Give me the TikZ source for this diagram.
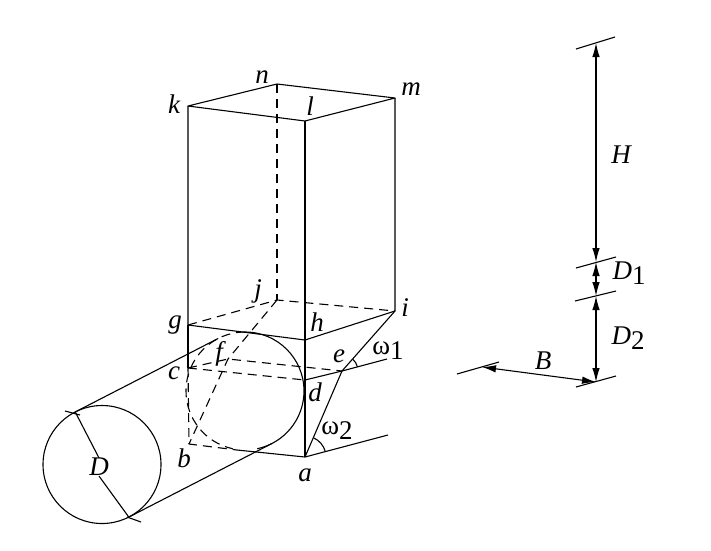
\documentclass[tikz,border=0pt]{standalone}
\usepackage{fontspec}
\setmainfont{Liberation Serif}
\usetikzlibrary{arrows.meta}

\begin{document}
\begin{tikzpicture}[x=1pt,y=-1pt,
    edge/.style    = {line width=1.1pt,line join=round},
    hidden/.style  = {edge,dash pattern=on 9pt off 6pt},
    dim/.style     = {edge,{Latex[length=14pt,width=7.5pt]}-{Latex[length=14pt,width=7.5pt]}},
    lab/.style     = {font=\fontsize{27}{27}\selectfont\itshape,inner sep=0pt},
    rnd/.style     = {circle,inner sep=0pt,outer sep=0pt,minimum size=118pt},
  ]
  \useasboundingbox (0,0) rectangle (711,550);
  % box corners
  \coordinate (k) at (188,106);
  \coordinate (l) at (305,121);
  \coordinate (m) at (395,98);
  \coordinate (n) at (277,84);
  \coordinate (g) at (188,325);
  \coordinate (h) at (305,340);
  \coordinate (i) at (395,311);
  \coordinate (j) at (277,300);
  \coordinate (c) at (188,368);
  \coordinate (d) at (305,380);
  \coordinate (e) at (342,371);
  \coordinate (f) at (228,359);
  \coordinate (b) at (189,444);
  \coordinate (a) at (305,457);
  \coordinate (ba) at (237,450);
  \coordinate (rayE) at (387,359);
  \coordinate (rayA) at (388,435);
  % dimension marks
  \coordinate (dimH) at (596,43);
  \coordinate (dimA) at (596,262);
  \coordinate (dimB) at (596,296);
  \coordinate (dimC) at (596,382);
  \coordinate (dimW) at (482,367);
  \coordinate (tick1a) at (576,49);  \coordinate (tick1b) at (615,37);
  \coordinate (tick2a) at (576,268); \coordinate (tick2b) at (616,257);
  \coordinate (tick3a) at (575,301); \coordinate (tick3b) at (616,291);
  \coordinate (tick4a) at (576,387); \coordinate (tick4b) at (616,376);
  \coordinate (tick5a) at (457,374); \coordinate (tick5b) at (499,362);
  \coordinate (tick6a) at (65,411);  \coordinate (tick6b) at (80,415);
  \coordinate (tick7a) at (127,517); \coordinate (tick7b) at (141,522);

  \node[rnd,draw,edge] (cirD) at (102,464.5) {};
  \node[rnd] (cirC) at (245,391) {};

  % solid edges
  \draw[edge] (k) -- (l) -- (m) -- (n) -- cycle;
  \draw[edge] (k) -- (g) -- (h) -- (i) -- (m);
  \draw[edge] (l) -- (a);
  \draw[edge] (g) -- (c);
  \draw[edge] (d) -- (e) -- (rayE);
  \draw[edge] (a) -- (e) -- (i);
  \draw[edge] (a) -- (rayA);
  \draw[edge] (ba) -- (a);
  % hidden edges
  \draw[hidden] (n) -- (j);
  \draw[hidden] (g) -- (j) -- (i);
  \draw[hidden] (c) -- (d);
  \draw[hidden] (c) -- (f) -- (e);
  \draw[hidden] (c) -- (b) -- (ba);
  \draw[hidden] (j) -- (f) -- (b);
  % cylinder
  \draw[edge] (cirC.90) arc[start angle=90,end angle=-78,radius=59pt];
  \draw[hidden] (cirC.90) arc[start angle=90,end angle=258,radius=59pt];
  \draw[edge] (cirD.117) -- (cirC.117);
  \draw[edge] (cirD.297) -- (cirC.297);
  \draw[edge] (tick6a) -- (tick6b);
  \draw[edge] (tick7a) -- (tick7b);
  % angles
  \draw[edge] (e) ++(15:16pt) arc[start angle=15,end angle=48,radius=16pt];
  \draw[edge] (a) ++(15:21pt) arc[start angle=15,end angle=66,radius=21pt];
  % dimensions
  \draw[edge] (tick1a) -- (tick1b);
  \draw[edge] (tick2a) -- (tick2b);
  \draw[edge] (tick3a) -- (tick3b);
  \draw[edge] (tick4a) -- (tick4b);
  \draw[edge] (tick5a) -- (tick5b);
  \draw[dim] (dimH) -- (dimA);
  \draw[dim] (dimA) -- (dimB);
  \draw[dim] (dimB) -- (dimC);
  \draw[dim] (dimW) -- (dimC);

  \node[lab] (labD) at (99,467) {D};
  \draw[edge] (cirD.117) -- (labD.north);
  \draw[edge] (labD.south) -- (cirD.297);

  % labels
  \node[lab] (labK) at (174,104) {k};
  \node[lab] (labL) at (310,106) {l};
  \node[lab] (labM) at (411,89) {m};
  \node[lab] (labN) at (262,77) {n};
  \node[lab] (labG) at (175,325) {g};
  \node[lab] (labH) at (317,322) {h};
  \node[lab] (labI) at (405,308) {i};
  \node[lab] (labJ) at (258,291) {j};
  \node[lab] (labC) at (174,373) {c};
  \node[lab] (labDd) at (315,392) {d};
  \node[lab] (labE) at (339,356) {e};
  \node[lab] (labF) at (219,354) {f};
  \node[lab] (labB) at (184,458) {b};
  \node[lab] (labA) at (305,475) {a};
  \node[lab] (labW1) at (388,351) {\upshape ω\raisebox{-5pt}{1}};
  \node[lab] (labW2) at (337,431) {\upshape ω\raisebox{-5pt}{2}};
  \node[lab] (labHH) at (621,155) {H};
  \node[lab] (labD1) at (629,273) {D\raisebox{-5pt}{\upshape 1}};
  \node[lab] (labD2) at (628,338) {D\raisebox{-5pt}{\upshape 2}};
  \node[lab] (labBB) at (543,361) {B};
\end{tikzpicture}
\end{document}
